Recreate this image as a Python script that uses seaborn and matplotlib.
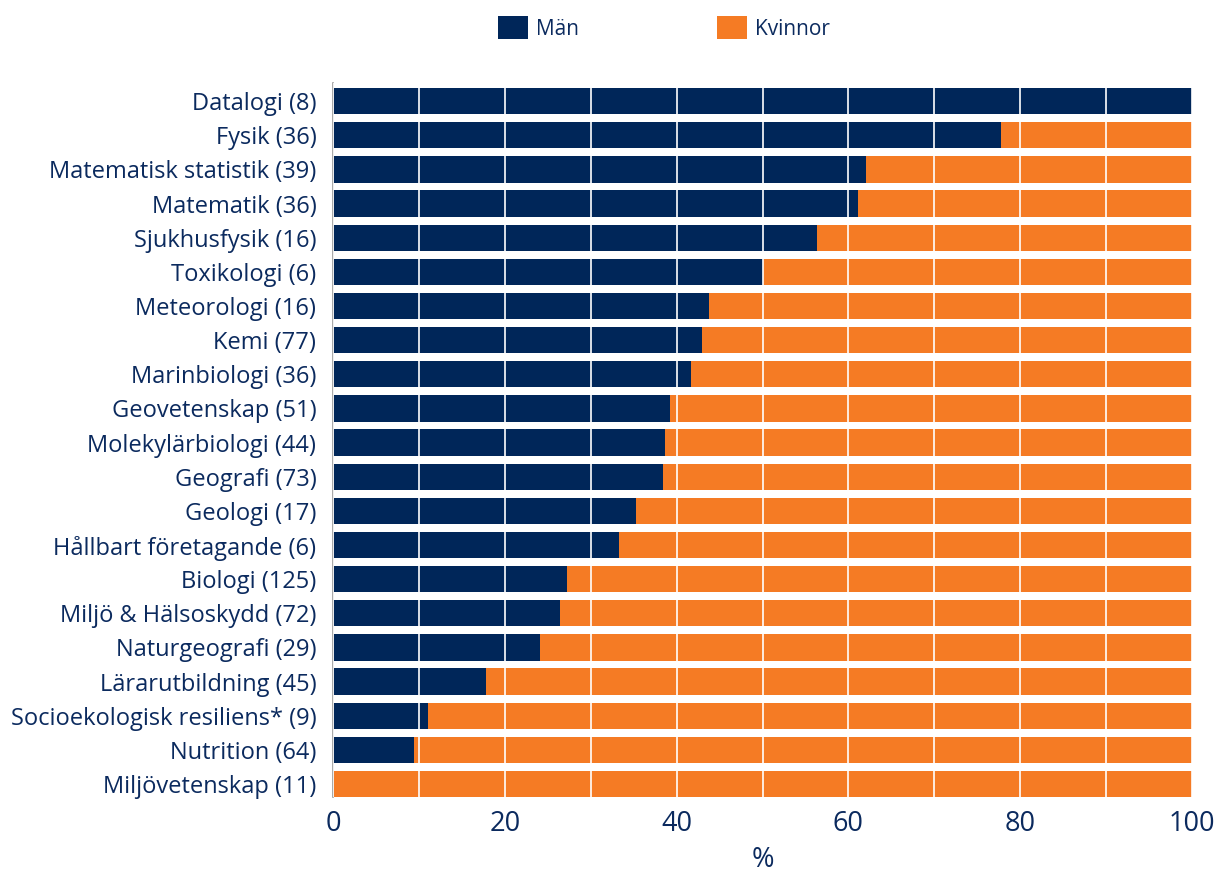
import matplotlib
matplotlib.use("Agg")
import matplotlib.pyplot as plt
import seaborn as sns
import pandas as pd
import numpy as np
from matplotlib.patches import Patch

categories = [
    "Datalogi (8)", "Fysik (36)", "Matematisk statistik (39)", "Matematik (36)",
    "Sjukhusfysik (16)", "Toxikologi (6)", "Meteorologi (16)", "Kemi (77)",
    "Marinbiologi (36)", "Geovetenskap (51)", "Molekylärbiologi (44)", "Geografi (73)",
    "Geologi (17)", "Hållbart företagande (6)", "Biologi (125)", "Miljö & Hälsoskydd (72)",
    "Naturgeografi (29)", "Lärarutbildning (45)", "Socioekologisk resiliens* (9)",
    "Nutrition (64)", "Miljövetenskap (11)",
]
man = [100.0, 77.8, 62.0, 61.1, 56.3, 50.0, 43.8, 42.9, 41.7, 39.2, 38.6, 38.4,
       35.3, 33.3, 27.2, 26.4, 24.1, 17.8, 11.1, 9.4, 0.0]
kvinnor = [100 - v for v in man]
xticks = [0, 20, 40, 60, 80, 100]

navy = "#002659"
orange = "#F57B24"
textc = "#0B2A5E"

sns.set_theme(style="white")
plt.rcParams["font.family"] = ["Open Sans", "DejaVu Sans"]

df = pd.DataFrame({"cat": categories, "Män": man, "Kvinnor": kvinnor})
df["total"] = df["Män"] + df["Kvinnor"]

fig = plt.figure(figsize=(12.22, 8.72), dpi=100)
ax = fig.add_axes([333/1222, 1-797/872, (1192-333)/1222, (797-83)/872])

sns.barplot(data=df, y="cat", x="total", color=orange, orient="h", width=0.77,
            ax=ax, saturation=1, linewidth=0)
sns.barplot(data=df, y="cat", x="Män", color=navy, orient="h", width=0.77,
            ax=ax, saturation=1, linewidth=0)

ax.set_xlim(0, 100)
ax.set_ylim(20.38, -0.53)
ax.set_xticks(xticks)
ax.set_xticklabels([str(t) for t in xticks], fontsize=19.5, color=textc)
ax.set_xticks(np.arange(0, 101, 10), minor=True)
ax.tick_params(axis="x", which="minor", length=0)
ax.grid(axis="x", which="both", color="white", linewidth=1.2)
ax.set_axisbelow(False)
ax.tick_params(axis="x", which="major", direction="out", length=5, width=1.5,
               color="#222222", pad=4)
ax.tick_params(axis="y", which="major", length=0, pad=12, labelsize=17, labelcolor=textc)
ax.set_yticks(np.arange(-0.5, 20.5, 1), minor=True)
ax.tick_params(axis="y", which="minor", direction="in", length=5, width=1.5, color="#222222")
ax.set_ylabel("")
ax.set_xlabel("%", fontsize=19.5, color=textc, labelpad=6)
for s in ["top", "right", "bottom"]:
    ax.spines[s].set_visible(False)
ax.spines["left"].set_color("#9a9a9a")
ax.spines["left"].set_linewidth(1.2)

handles = [Patch(facecolor=navy, edgecolor="none", label="Män"),
           Patch(facecolor=orange, edgecolor="none", label="Kvinnor")]
fig.legend(handles=handles, loc="center", bbox_to_anchor=(664/1222, 1-28/872), ncol=2,
           frameon=False, fontsize=15, handlelength=1.45, handleheight=1.3,
           handletextpad=0.4, columnspacing=6.6, labelcolor=textc)

fig.savefig("out.png", dpi=100)
